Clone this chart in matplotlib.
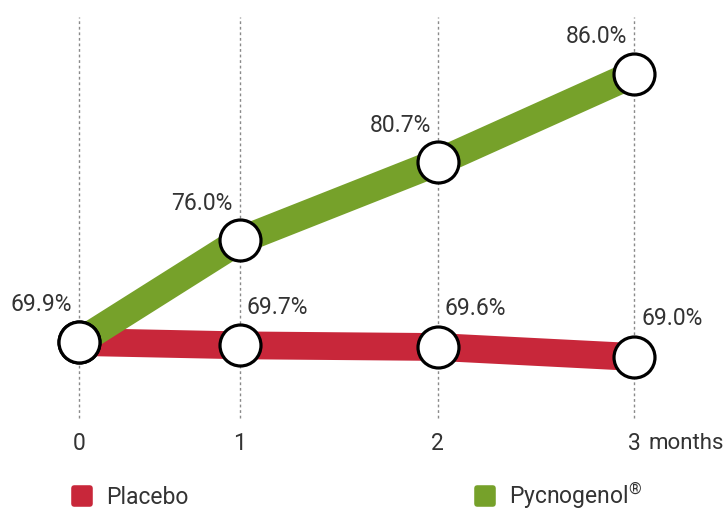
import matplotlib
matplotlib.use("Agg")
import matplotlib.pyplot as plt
from matplotlib.lines import Line2D
from matplotlib.markers import MarkerStyle

# =====================================================
# Data
# =====================================================

months = [0, 1, 2, 3]
placebo = [69.9, 69.7, 69.6, 69.0]
pycnogenol = [69.9, 76.0, 80.7, 86.0]

series_names = ["Placebo", "Pycnogenol$^{\\mathrm{\u00ae}}$"]

# month columns are not evenly spaced on the page
month_pos = [0.0, 0.87, 1.94, 3.0]

# =====================================================
# Style
# =====================================================

RED = "#c8273a"
GREEN = "#76a12a"
TEXT = "#333333"
FONT = "Roboto"
FS = 16.5

plt.rcParams["font.family"] = [FONT, "DejaVu Sans"]
plt.rcParams["mathtext.fontset"] = "custom"
plt.rcParams["mathtext.rm"] = FONT

fig = plt.figure(figsize=(7.26, 5.11), dpi=100)
ax = fig.add_axes([0, 0, 1, 1])
ax.set_xlim(-0.427, 3.497)
ax.set_ylim(59.75, 90.44)
ax.axis("off")

# dotted month guides
ax.vlines(month_pos, 65.34, 89.42, colors="#8a8a8a",
          linestyles=(0, (2, 2)), linewidth=1.0, zorder=1)

# =====================================================
# Lines and markers
# =====================================================

ax.plot(month_pos, placebo, color=RED, linewidth=20,
        solid_capstyle="butt", solid_joinstyle="miter", zorder=2)
ax.plot(month_pos, pycnogenol, color=GREEN, linewidth=20,
        solid_capstyle="butt", solid_joinstyle="miter", zorder=3)

for vals in (placebo, pycnogenol):
    ax.plot(month_pos, vals, linestyle="none", marker="o",
            markersize=29.5, markerfacecolor="white",
            markeredgecolor="black", markeredgewidth=2.3, zorder=4)

# value labels
for i, v in enumerate(pycnogenol):
    ax.annotate(f"{v:.1f}%", (month_pos[i], v), xytext=(-7, 37),
                textcoords="offset pixels", ha="right", va="center",
                fontsize=FS, color=TEXT)

for i, v in enumerate(placebo):
    if i == 0:
        continue
    ax.annotate(f"{v:.1f}%", (month_pos[i], v), xytext=(7, 38),
                textcoords="offset pixels", ha="left", va="center",
                fontsize=FS, color=TEXT)

# month labels
for m, x in zip(months, month_pos):
    ax.text(x, 63.83, str(m), ha="center", va="center",
            fontsize=FS, color=TEXT)
ax.annotate("months", (month_pos[-1], 63.83), xytext=(14, 0),
            textcoords="offset pixels", ha="left", va="center",
            fontsize=FS - 0.5, color=TEXT)

# =====================================================
# Legend
# =====================================================

square = MarkerStyle("s", joinstyle="round")
handles = [
    Line2D([], [], linestyle="none", marker=square, markersize=12,
           markerfacecolor=c, markeredgecolor=c, markeredgewidth=4)
    for c in (RED, GREEN)
]

fig.legend(handles, series_names, loc="center left",
           bbox_to_anchor=(71 / 726, 1 - 496 / 511), ncol=2,
           frameon=False, handlelength=1.0, handletextpad=0.55,
           columnspacing=12.4, borderpad=0, borderaxespad=0,
           prop={"family": FONT, "size": FS}, labelcolor=TEXT)

fig.savefig("out.png", dpi=100)
